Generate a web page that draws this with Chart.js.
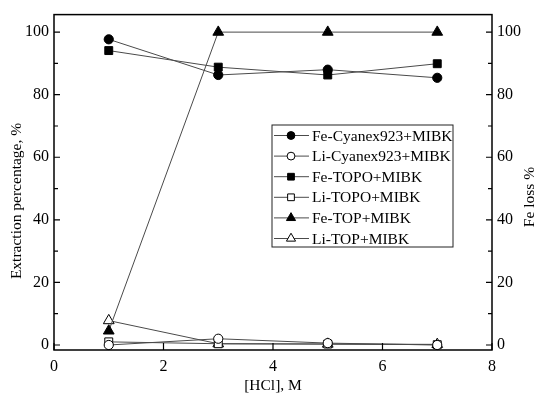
<!DOCTYPE html>
<html>
<head>
<meta charset="utf-8">
<script src="https://cdn.jsdelivr.net/npm/chart.js@4/dist/chart.umd.min.js"></script>
<style>
  html, body { margin: 0; padding: 0; background: #fff; }
  #wrap { width: 541px; height: 402px; }
</style>
</head>
<body>
<div id="wrap"><canvas id="hcl_chart" width="541" height="402"></canvas></div>
<script>
const hcl_conc = [1, 3, 5, 7];

const fe_cyanex = [97.7, 86.3, 88.0, 85.4];
const li_cyanex = [0.0, 2.0, 0.6, 0.0];
const fe_topo = [94.1, 88.8, 86.3, 89.9];
const li_topo = [1.0, 0.4, 0.3, 0.1];
const fe_top = [4.5, 100, 100, 100];
const li_top = [7.8, 0.4, 0.3, 0.2];

const y_ticks = [0, 20, 40, 60, 80, 100];
const x_ticks = [0, 2, 4, 6, 8];

const FONT = "'Liberation Serif', 'Times New Roman', serif";

function toPoints(vals) {
  return hcl_conc.map((x, i) => ({ x: x, y: vals[i] }));
}

function makeSet(label, vals, style, filled) {
  let r = 4.6;
  if (style === 'rect') r = 5.6;
  if (style === 'triangle') r = 6.2;
  return {
    label: label,
    data: toPoints(vals),
    borderColor: '#4a4a4a',
    borderWidth: 1,
    pointStyle: style,
    pointRadius: r,
    pointHoverRadius: r,
    pointBorderColor: '#000',
    pointBackgroundColor: filled ? '#000' : '#fff',
    pointBorderWidth: 1,
    fill: false,
    tension: 0,
    clip: false
  };
}

const hcl_datasets = [
  makeSet('Fe-Cyanex923+MIBK', fe_cyanex, 'circle', true),
  makeSet('Li-Cyanex923+MIBK', li_cyanex, 'circle', false),
  makeSet('Fe-TOPO+MIBK', fe_topo, 'rect', true),
  makeSet('Li-TOPO+MIBK', li_topo, 'rect', false),
  makeSet('Fe-TOP+MIBK', fe_top, 'triangle', true),
  makeSet('Li-TOP+MIBK', li_top, 'triangle', false)
];

function drawMarker(ctx, style, r, x, y, filled) {
  ctx.save();
  ctx.beginPath();
  if (style === 'circle') {
    ctx.arc(x, y, r, 0, Math.PI * 2);
  } else if (style === 'rect') {
    const s = r * Math.SQRT1_2;
    ctx.rect(x - s, y - s, 2 * s, 2 * s);
  } else {
    const a = Math.PI / 3 * 2;
    ctx.moveTo(x, y - r);
    ctx.lineTo(x + Math.sin(a) * r, y - Math.cos(a) * r);
    ctx.lineTo(x - Math.sin(a) * r, y - Math.cos(a) * r);
    ctx.closePath();
  }
  ctx.fillStyle = filled ? '#000' : '#fff';
  ctx.fill();
  ctx.strokeStyle = '#000';
  ctx.lineWidth = 1;
  ctx.stroke();
  ctx.restore();
}

function vText(ctx, text, x, y) {
  ctx.save();
  ctx.translate(x, y);
  ctx.rotate(-Math.PI / 2);
  ctx.fillText(text, 0, 0);
  ctx.restore();
}

// frame, inward ticks, axis titles and legend box
const framePlugin = {
  id: 'frame',
  afterDraw(chart) {
    const ctx = chart.ctx;
    const a = chart.chartArea;
    const xs = chart.scales.x;
    const ys = chart.scales.y;
    ctx.save();
    ctx.strokeStyle = '#000';
    ctx.lineWidth = 1.5;
    ctx.strokeRect(a.left, a.top, a.right - a.left, a.bottom - a.top);

    ctx.lineWidth = 1.2;
    ctx.beginPath();
    x_ticks.forEach(v => {
      const px = xs.getPixelForValue(v);
      ctx.moveTo(px, a.bottom);
      ctx.lineTo(px, a.bottom - 7);
    });
    for (let v = 0; v <= 100; v += 10) {
      const py = ys.getPixelForValue(v);
      const len = v % 20 === 0 ? 6 : 4;
      ctx.moveTo(a.left, py);
      ctx.lineTo(a.left + len, py);
      ctx.moveTo(a.right, py);
      ctx.lineTo(a.right - len, py);
    }
    ctx.stroke();

    // axis titles
    ctx.fillStyle = '#000';
    ctx.font = '15.5px ' + FONT;
    ctx.textAlign = 'center';
    ctx.textBaseline = 'middle';
    ctx.fillText('[HCl], M', (a.left + a.right) / 2, 386);
    vText(ctx, 'Extraction percentage, %', 17, 201);
    vText(ctx, 'Fe loss %', 530, 197);
    ctx.restore();

    // legend
    const lx = 272, ly = 125, lw = 181, lh = 122;
    ctx.save();
    ctx.fillStyle = '#fff';
    ctx.fillRect(lx, ly, lw, lh);
    ctx.strokeStyle = '#222';
    ctx.lineWidth = 1;
    ctx.strokeRect(lx, ly, lw, lh);
    ctx.font = '15.5px ' + FONT;
    ctx.textAlign = 'left';
    ctx.textBaseline = 'middle';
    chart.data.datasets.forEach((ds, i) => {
      const cy = ly + 10.5 + i * 20.6;
      ctx.strokeStyle = '#4a4a4a';
      ctx.beginPath();
      ctx.moveTo(lx + 2, cy);
      ctx.lineTo(lx + 37, cy);
      ctx.stroke();
      drawMarker(ctx, ds.pointStyle, ds.pointRadius * 0.85, lx + 19, cy, ds.pointBackgroundColor === '#000');
      ctx.fillStyle = '#000';
      ctx.fillText(ds.label, lx + 40, cy + 1);
    });
    ctx.restore();
  }
};

const hcl_config = {
  type: 'line',
  data: { datasets: hcl_datasets },
  options: {
    responsive: false,
    animation: false,
    layout: { padding: { top: 11, left: 0, right: 0, bottom: 0 } },
    plugins: {
      legend: { display: false },
      tooltip: { enabled: false }
    },
    scales: {
      x: {
        type: 'linear',
        min: 0,
        max: 8,
        afterBuildTicks: s => { s.ticks = x_ticks.map(v => ({ value: v })); },
        afterFit: s => { s.height = 52; },
        grid: { display: false, drawTicks: false },
        border: { display: false },
        ticks: { color: '#000', font: { family: FONT, size: 16 }, padding: 7, maxRotation: 0 }
      },
      y: {
        type: 'linear',
        position: 'left',
        min: -1.6,
        max: 105.6,
        afterBuildTicks: s => { s.ticks = y_ticks.map(v => ({ value: v })); },
        afterFit: s => { s.width = 54; },
        grid: { display: false, drawTicks: false },
        border: { display: false },
        ticks: { color: '#000', font: { family: FONT, size: 16 }, padding: 5 }
      },
      y2: {
        type: 'linear',
        position: 'right',
        min: -1.6,
        max: 105.6,
        afterBuildTicks: s => { s.ticks = y_ticks.map(v => ({ value: v })); },
        afterFit: s => { s.width = 49; },
        grid: { display: false, drawTicks: false },
        border: { display: false },
        ticks: { color: '#000', font: { family: FONT, size: 16 }, padding: 5 }
      }
    }
  },
  plugins: [framePlugin]
};

const hcl_chart = new Chart(document.getElementById('hcl_chart'), hcl_config);
</script>
</body>
</html>
